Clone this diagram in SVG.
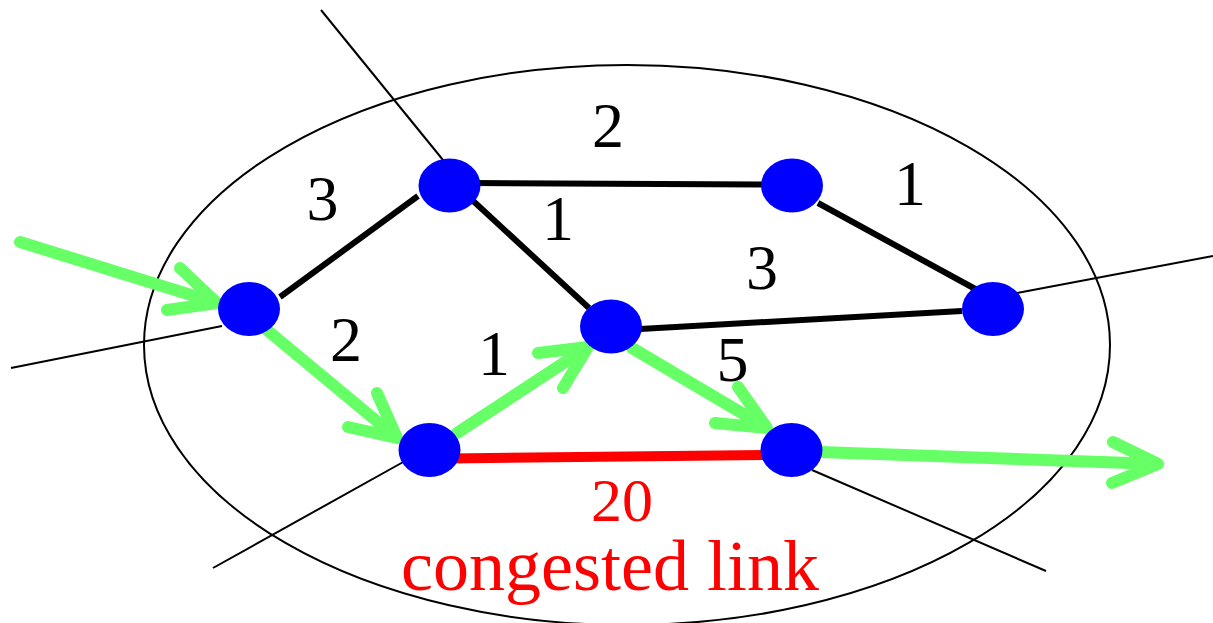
<svg xmlns="http://www.w3.org/2000/svg" width="1213" height="623" viewBox="0 0 1213 623">
  <style>
    .boundary { fill: none; stroke: #000; stroke-width: 2; }
    .stub { stroke: #000; stroke-width: 2; fill: none; }
    .link { stroke: #000; stroke-width: 6; fill: none; }
    .congested { stroke: #ff0000; stroke-width: 10; fill: none; }
    .flow { stroke: #66ff66; stroke-width: 12; fill: none; stroke-linecap: round; stroke-linejoin: round; }
    .router { fill: #0000ff; }
    text { font-family: 'Liberation Serif', 'DejaVu Serif', serif; }
    .weight { font-size: 64px; fill: #000; text-anchor: middle; }
    .alert { fill: #ff0000; text-anchor: middle; }
  </style>

  <!-- domain boundary -->
  <ellipse class="boundary" cx="627" cy="345" rx="483" ry="280"/>

  <g id="connectors">
    <!-- external links leaving the domain -->
    <line class="stub" x1="321" y1="10" x2="443" y2="160"/>
    <line class="stub" x1="222" y1="326" x2="11" y2="368"/>
    <line class="stub" x1="1017" y1="293" x2="1213" y2="256"/>
    <line class="stub" x1="405" y1="461" x2="213" y2="568"/>
    <line class="stub" x1="812" y1="470" x2="1046" y2="571"/>

    <!-- internal links -->
    <line class="link" x1="280" y1="297" x2="418" y2="196"/>
    <line class="link" x1="474" y1="183" x2="762" y2="184.5"/>
    <line class="link" x1="470" y1="198" x2="589" y2="308"/>
    <line class="link" x1="818" y1="203" x2="979" y2="291"/>
    <line class="link" x1="640" y1="329" x2="962" y2="311"/>
    <line class="congested" x1="450" y1="458.5" x2="767" y2="455"/>

    <!-- traffic path -->
    <path class="flow" d="M20 242 L217 303 M180 268 L217 303 L167 310"/>
    <path class="flow" d="M267 330 L397 438 M377 393 L397 438 L348 427"/>
    <path class="flow" d="M457 433 L588 347 M538 353 L588 347 L563 388"/>
    <path class="flow" d="M632 348 L767 428 M738 387 L767 428 L715 423"/>
    <path class="flow" d="M820 452 L1158 464 M1113 442 L1158 464 L1112 483"/>
  </g>

  <g id="node-a"><ellipse class="router" cx="249" cy="309" rx="31" ry="27"/></g>
  <g id="node-b"><ellipse class="router" cx="449.5" cy="185.5" rx="31" ry="27"/></g>
  <g id="node-c"><ellipse class="router" cx="792" cy="185.5" rx="31" ry="27"/></g>
  <g id="node-d"><ellipse class="router" cx="993" cy="309" rx="31" ry="27"/></g>
  <g id="node-e"><ellipse class="router" cx="611" cy="326.5" rx="31" ry="27"/></g>
  <g id="node-f"><ellipse class="router" cx="429.5" cy="450" rx="31" ry="27"/></g>
  <g id="node-g"><ellipse class="router" cx="791.5" cy="450" rx="31" ry="27"/></g>

  <g id="weights">
    <text class="weight" x="322.5" y="220">3</text>
    <text class="weight" x="608" y="147">2</text>
    <text class="weight" x="910" y="205">1</text>
    <text class="weight" x="558" y="240">1</text>
    <text class="weight" x="762" y="289">3</text>
    <text class="weight" x="346" y="361">2</text>
    <text class="weight" x="494" y="375">1</text>
    <text class="weight" x="732.5" y="381">5</text>
  </g>

  <g id="congestion-label">
    <text class="alert" x="622" y="521" font-size="62">20</text>
    <text class="alert" x="610" y="590" font-size="72">congested link</text>
  </g>
</svg>
